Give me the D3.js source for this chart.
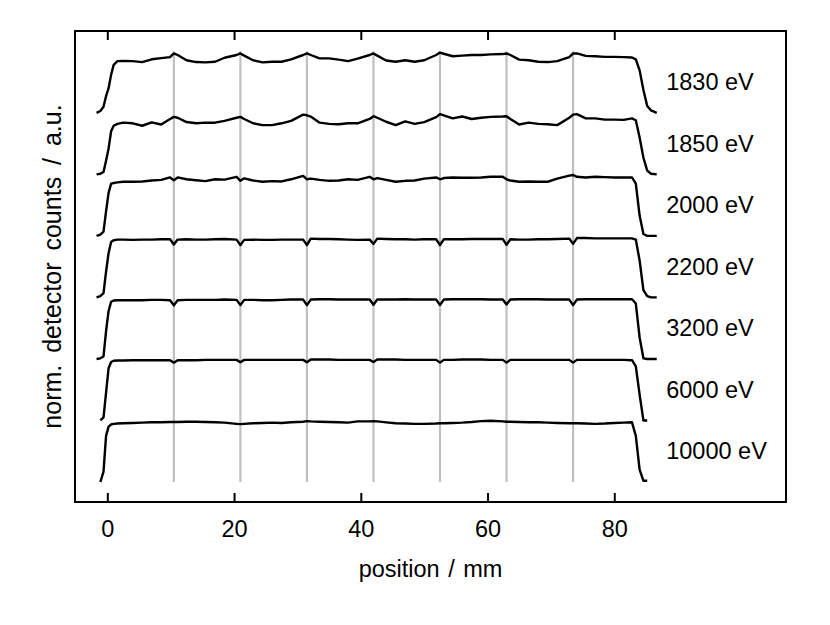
<!DOCTYPE html>
<html>
<head>
<meta charset="utf-8">
<script src="https://cdn.jsdelivr.net/npm/d3@7"></script>
<style>
  body { margin: 0; background: #fff; }
  text { font-family: "Liberation Sans", Arial, sans-serif; fill: #000; }
</style>
</head>
<body>
<svg id="chart" width="830" height="625"></svg>
<script>
// sample positions along the detector (mm)
const positions = [-1.7, -1.1, -0.6, -0.2, 0.2, 0.6, 1.0, 1.6,
  2.5, 4, 5.5, 7, 8.5, 9.9, 10.5, 11.1, 12.5, 14, 15.5, 17, 18.5, 20.4, 21, 21.6,
  23, 24.5, 26, 27.5, 29, 30.9, 31.5, 32.1, 33.5, 35, 36.5, 38, 39.5, 41.4, 42, 42.6,
  44, 45.5, 47, 48.5, 50, 51.9, 52.5, 53.1, 54.5, 56, 57.5, 59, 60.5, 62.4, 63, 63.6,
  65, 66.5, 68, 69.5, 71, 72.9, 73.5, 74.1, 75.5, 77, 78.5, 80, 81.5,
  82.8, 83.4, 84.0, 84.6, 85.2, 85.8, 86.7];

const energies = ['1830 eV', '1850 eV', '2000 eV', '2200 eV', '3200 eV', '6000 eV', '10000 eV'];

const counts1830 = [0, 0.03, 0.1, 0.27, 0.4, 0.62, 0.78, 0.84,
  0.845, 0.84, 0.825, 0.87, 0.89, 0.905, 0.965, 0.94, 0.855, 0.825, 0.82, 0.83, 0.895, 0.94, 0.965, 0.93,
  0.855, 0.82, 0.83, 0.83, 0.87, 0.94, 0.965, 0.94, 0.885, 0.885, 0.865, 0.84, 0.88, 0.94, 0.965, 0.93,
  0.85, 0.83, 0.855, 0.83, 0.855, 0.94, 0.98, 0.96, 0.92, 0.93, 0.94, 0.94, 0.95, 0.955, 0.965, 0.94,
  0.865, 0.855, 0.83, 0.825, 0.84, 0.905, 0.965, 0.965, 0.925, 0.92, 0.91, 0.91, 0.905,
  0.9, 0.87, 0.69, 0.37, 0.11, 0.04, 0];
const counts1850 = [0, 0.01, 0.04, 0.22, 0.42, 0.7, 0.79, 0.82,
  0.84, 0.83, 0.79, 0.845, 0.81, 0.9, 0.935, 0.92, 0.85, 0.83, 0.84, 0.84, 0.87, 0.92, 0.935, 0.9,
  0.83, 0.80, 0.80, 0.83, 0.87, 0.97, 0.96, 0.94, 0.84, 0.82, 0.815, 0.83, 0.83, 0.9, 0.945, 0.92,
  0.855, 0.80, 0.86, 0.82, 0.85, 0.93, 0.98, 0.96, 0.91, 0.94, 0.9, 0.92, 0.935, 0.94, 0.945, 0.9,
  0.81, 0.84, 0.82, 0.815, 0.80, 0.92, 0.97, 0.98, 0.91, 0.91, 0.89, 0.89, 0.885,
  0.91, 0.88, 0.6, 0.27, 0.06, 0.01, 0];
const counts2000 = [0, 0.02, 0.07, 0.4, 0.7, 0.85, 0.86, 0.87,
  0.88, 0.88, 0.885, 0.9, 0.91, 0.95, 0.905, 0.95, 0.92, 0.905, 0.89, 0.92, 0.915, 0.96, 0.895, 0.935,
  0.9, 0.88, 0.89, 0.885, 0.92, 0.975, 0.92, 0.93, 0.91, 0.895, 0.9, 0.92, 0.91, 0.96, 0.92, 0.94,
  0.91, 0.88, 0.895, 0.9, 0.93, 0.95, 0.92, 0.94, 0.95, 0.945, 0.945, 0.95, 0.96, 0.96, 0.92, 0.9,
  0.88, 0.885, 0.88, 0.88, 0.93, 0.98, 0.99, 0.96, 0.95, 0.96, 0.955, 0.95, 0.95,
  0.95, 0.85, 0.33, 0.03, 0, 0, 0];
const counts2200 = [0, 0.02, 0.07, 0.42, 0.72, 0.9, 0.93, 0.94,
  0.94, 0.935, 0.94, 0.94, 0.945, 0.945, 0.86, 0.94, 0.945, 0.94, 0.94, 0.945, 0.95, 0.94, 0.85, 0.935,
  0.94, 0.935, 0.935, 0.94, 0.94, 0.94, 0.85, 0.955, 0.95, 0.95, 0.945, 0.94, 0.935, 0.94, 0.87, 0.955,
  0.95, 0.945, 0.945, 0.94, 0.945, 0.945, 0.85, 0.945, 0.945, 0.945, 0.95, 0.95, 0.95, 0.95, 0.855, 0.945,
  0.94, 0.94, 0.945, 0.945, 0.95, 0.955, 0.87, 0.965, 0.965, 0.96, 0.96, 0.96, 0.96,
  0.96, 0.94, 0.6, 0.12, 0.02, 0, 0];
const counts3200 = [0, 0.01, 0.04, 0.45, 0.78, 0.93, 0.95, 0.955,
  0.955, 0.955, 0.955, 0.96, 0.96, 0.955, 0.87, 0.955, 0.96, 0.96, 0.96, 0.96, 0.965, 0.96, 0.875, 0.96,
  0.96, 0.955, 0.955, 0.96, 0.965, 0.965, 0.875, 0.965, 0.97, 0.97, 0.965, 0.965, 0.965, 0.965, 0.88, 0.965,
  0.965, 0.965, 0.97, 0.965, 0.965, 0.965, 0.875, 0.965, 0.97, 0.97, 0.97, 0.97, 0.965, 0.965, 0.885, 0.965,
  0.97, 0.97, 0.97, 0.965, 0.965, 0.965, 0.875, 0.965, 0.97, 0.97, 0.97, 0.97, 0.97,
  0.97, 0.9, 0.35, 0.01, 0, 0, 0];
const counts6000 = [null, 0, 0.05, 0.45, 0.85, 0.95, 0.97, 0.975,
  0.975, 0.98, 0.98, 0.98, 0.98, 0.98, 0.94, 0.98, 0.98, 0.98, 0.985, 0.985, 0.985, 0.985, 0.945, 0.985,
  0.985, 0.985, 0.985, 0.985, 0.985, 0.985, 0.945, 0.99, 0.99, 0.99, 0.985, 0.985, 0.985, 0.985, 0.95, 0.99,
  0.99, 0.99, 0.985, 0.985, 0.985, 0.985, 0.94, 0.985, 0.985, 0.99, 0.99, 0.99, 0.985, 0.985, 0.94, 0.985,
  0.985, 0.985, 0.985, 0.985, 0.985, 0.985, 0.94, 0.985, 0.985, 0.985, 0.985, 0.985, 0.985,
  0.98, 0.88, 0.42, 0, 0, null, null];
const counts10000 = [null, 0, 0.17, 0.75, 0.9, 0.935, 0.945, 0.95,
  0.955, 0.96, 0.965, 0.97, 0.97, 0.975, 0.975, 0.975, 0.98, 0.98, 0.975, 0.97, 0.965, 0.945, 0.94, 0.945,
  0.955, 0.96, 0.965, 0.96, 0.97, 0.98, 0.99, 0.985, 0.98, 0.975, 0.97, 0.965, 0.985, 0.985, 0.99, 0.985,
  0.97, 0.955, 0.95, 0.945, 0.945, 0.95, 0.955, 0.955, 0.96, 0.965, 0.975, 0.99, 0.995, 0.985, 0.98, 0.98,
  0.975, 0.97, 0.97, 0.965, 0.96, 0.955, 0.955, 0.955, 0.95, 0.945, 0.95, 0.96, 0.965,
  0.97, 0.75, 0.2, 0.02, 0.02, null, null];

const allCounts = [counts1830, counts1850, counts2000, counts2200, counts3200, counts6000, counts10000];

// support bar positions (mm), drawn as grey vertical lines
const barPositions = [10.5, 21, 31.5, 42, 52.5, 63, 73.5];
const xTicks = [0, 20, 40, 60, 80];

const svg = d3.select('#chart');
const margin = { top: 31, right: 44, bottom: 123, left: 75 };
const width = +svg.attr('width');
const height = +svg.attr('height');
const innerWidth = width - margin.left - margin.right;
const innerHeight = height - margin.top - margin.bottom;

const x = d3.scaleLinear()
  .domain([-5.1, 107.1])
  .range([0, innerWidth]);

const y = d3.scaleLinear()
  .domain([-0.325, 7.33])
  .range([innerHeight, 0]);

const g = svg.append('g')
  .attr('transform', `translate(${margin.left},${margin.top})`);

// grey vertical lines
g.selectAll('.bar')
  .data(barPositions)
  .enter().append('line')
  .attr('x1', d => x(d))
  .attr('x2', d => x(d))
  .attr('y1', y(0))
  .attr('y2', y(7))
  .attr('stroke', '#c0c0c0')
  .attr('stroke-width', 2.2);

const line = d3.line()
  .defined(d => d.v != null)
  .x(d => x(d.x))
  .y(d => y(d.v + d.off));

allCounts.forEach((counts, i) => {
  const off = allCounts.length - 1 - i;
  const pts = positions.map((p, j) => ({ x: p, v: counts[j], off: off }));
  g.append('path')
    .datum(pts)
    .attr('fill', 'none')
    .attr('stroke', '#000')
    .attr('stroke-width', 2.4)
    .attr('stroke-linejoin', 'round')
    .attr('d', line);

  g.append('text')
    .attr('x', x(88.2))
    .attr('y', y(off + 0.5))
    .attr('dy', '0.35em')
    .style('font-size', '23.5px')
    .text(energies[i]);
});

// axes
const bottomAxis = g.append('g')
  .attr('transform', `translate(0,${innerHeight})`)
  .call(d3.axisBottom(x).tickValues(xTicks).tickSizeInner(-9).tickSizeOuter(0).tickPadding(18));
const topAxis = g.append('g')
  .call(d3.axisTop(x).tickValues(xTicks).tickSizeInner(-9).tickSizeOuter(0).tickFormat(''));

[bottomAxis, topAxis].forEach(a => {
  a.select('.domain').remove();
  a.selectAll('line').attr('stroke', '#000').attr('stroke-width', 2);
  a.selectAll('text')
    .style('font-family', '"Liberation Sans", Arial, sans-serif')
    .style('font-size', '23.5px');
});

g.append('rect')
  .attr('width', innerWidth)
  .attr('height', innerHeight)
  .attr('fill', 'none')
  .attr('stroke', '#000')
  .attr('stroke-width', 2);

svg.append('text')
  .attr('x', margin.left + innerWidth / 2)
  .attr('y', 577)
  .attr('text-anchor', 'middle')
  .style('font-size', '23.5px')
  .style('word-spacing', '2px')
  .text('position / mm');

svg.append('text')
  .attr('transform', `translate(61,${margin.top + innerHeight / 2}) rotate(-90)`)
  .attr('text-anchor', 'middle')
  .style('font-size', '25px')
  .style('word-spacing', '5px')
  .text('norm. detector counts / a.u.');
</script>
</body>
</html>
